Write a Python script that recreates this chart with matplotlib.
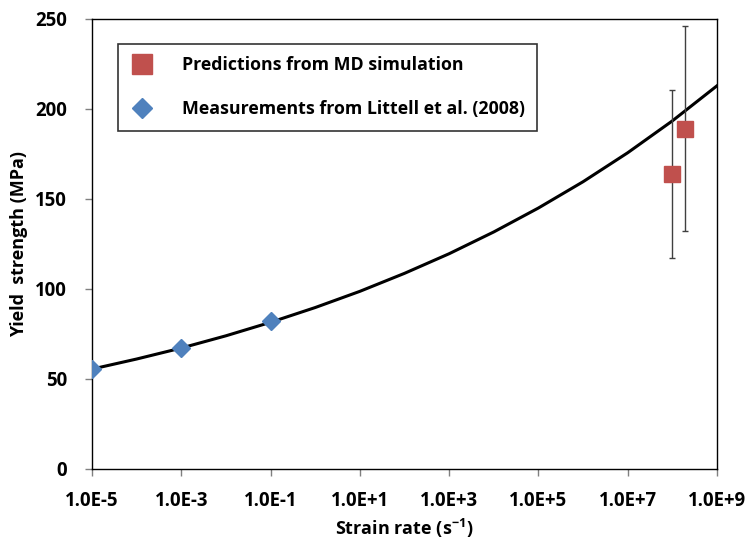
import matplotlib
matplotlib.use("Agg")
import matplotlib.pyplot as plt
import numpy as np

# Data
meas_rate = [1e-5, 1e-3, 1e-1]
meas_ys = [55.5, 67.5, 82.0]
md_rate = [1e8, 1.9e8]
md_ys = [164.0, 189.0]
md_err = [46.5, 57.0]
# trend curve read at each decade
curve_rate = [1e-5, 1e-4, 1e-3, 1e-2, 1e-1, 1e0, 1e1, 1e2, 1e3, 1e4, 1e5, 1e6, 1e7, 1e8, 1e9]
curve_ys = [55.5, 61.1, 67.2, 74.0, 81.5, 89.7, 98.7, 108.7, 119.6, 131.7, 145.0, 159.6, 175.7, 193.4, 212.9]
xticks = [1e-5, 1e-3, 1e-1, 1e1, 1e3, 1e5, 1e7, 1e9]
xticklabels = ["1.0E-5", "1.0E-3", "1.0E-1", "1.0E+1", "1.0E+3", "1.0E+5", "1.0E+7", "1.0E+9"]
yticks = [0, 50, 100, 150, 200, 250]

FONT = ['Open Sans', 'DejaVu Sans']
plt.rcParams['font.family'] = FONT
plt.rcParams['font.weight'] = 'bold'
plt.rcParams['mathtext.fontset'] = 'custom'
plt.rcParams['mathtext.rm'] = 'Open Sans:bold'
plt.rcParams['mathtext.bf'] = 'Open Sans:bold'

fig = plt.figure(figsize=(7.49, 5.39), dpi=100)
ax = fig.add_axes([92/749, 70/539, 625/749, 450/539])

ax.plot(curve_rate, curve_ys, color='black', lw=2.2, zorder=2)
ax.errorbar(md_rate, md_ys, yerr=md_err, fmt='none', ecolor='#404040', elinewidth=1.0,
            capsize=2, capthick=1.0, zorder=3)
ax.plot(md_rate, md_ys, 's', color='#C0504D', markersize=12.2, markeredgecolor='#C0504D',
        linestyle='none', zorder=4, label='Predictions from MD simulation')
ax.plot(meas_rate, meas_ys, 'D', color='#4F81BD', markersize=8.8, markeredgecolor='#4F81BD',
        linestyle='none', zorder=4, label='Measurements from Littell et al. (2008)')

ax.set_xscale('log')
ax.set_xlim(1e-5, 1e9)
ax.set_ylim(0, 250)
ax.set_xticks(xticks)
ax.set_xticklabels(xticklabels)
ax.minorticks_off()
ax.set_yticks(yticks)
ax.tick_params(axis='both', labelsize=13.4, direction='out', length=5, color='#808080', width=1)
ax.tick_params(axis='x', pad=11)
ax.tick_params(axis='y', pad=13)
for lab in ax.get_xticklabels() + ax.get_yticklabels():
    lab.set_fontweight('bold')
for s in ax.spines.values():
    s.set_color('black')
    s.set_linewidth(1.0)

ax.set_xlabel('Strain rate (s$^{\\mathrm{-1}}$)', fontsize=13, fontweight='bold', labelpad=4)
ax.set_ylabel('Yield  strength (MPa)', fontsize=13, fontweight='bold', labelpad=5)

leg = ax.legend(loc='upper left', bbox_to_anchor=(26/625, 425/450), frameon=True,
                fancybox=False, edgecolor='black', borderpad=0.7, labelspacing=1.45,
                handletextpad=1.6, borderaxespad=0, handlelength=1.3,
                prop={'family': FONT, 'weight': 'bold', 'size': 12.8})
leg.get_frame().set_linewidth(1.2)
hs = leg.legend_handles
hs[0].set_markersize(14.4)
hs[1].set_markersize(9.7)

fig.savefig('out.png', dpi=100)
